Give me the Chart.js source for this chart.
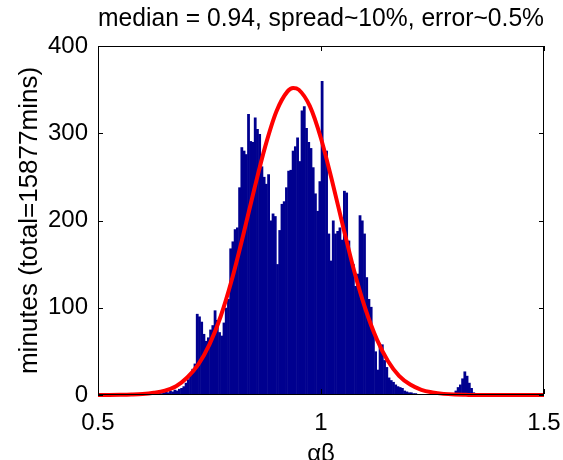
<!DOCTYPE html>
<html>
<head>
<meta charset="utf-8">
<script src="https://cdn.jsdelivr.net/npm/chart.js@4.4.0/dist/chart.umd.min.js"></script>
<style>
  html, body { margin: 0; padding: 0; background: #ffffff; overflow: hidden; }
  canvas { display: block; }
</style>
</head>
<body>
<canvas id="histChart" width="563" height="460"></canvas>
<script>
// Histogram bins: width 0.005, first bin starts at 0.625 (minutes per bin)
const binStart = 0.625;
const binWidth = 0.005;
const minuteCounts = [
    2, 2, 3, 2, 3, 4, 3, 5, 4, 6, 5, 7, 8, 10, 14, 18, 25, 30, 36,
    93, 90, 84, 70, 62, 66, 75, 80, 97, 86, 72, 68, 83, 100, 110,
    168, 176, 190, 192, 238, 284, 280, 276, 322, 291, 290, 318, 305, 299, 262, 250, 242, 253,
    200, 208, 205, 150, 189, 219, 222, 238, 257, 258, 280, 285, 295, 268, 326, 331, 306, 290, 283, 261, 231, 211, 245,
    360, 282, 280, 185, 154, 200, 185, 188, 192, 178, 234, 232, 177, 154, 150, 125, 139, 206, 200, 185, 135,
    110, 101, 71, 50, 29, 55, 58, 40, 32, 20, 17, 15, 12, 10, 9, 8, 5, 4, 3, 3, 2, 2, 1, 1,
    1, 1, 0, 1, 0, 0, 0, 0, 0, 0, 0, 0, 0, 0, 2, 5,
    9, 12, 19, 27, 22, 14, 8, 3
];

// Red fitted curve
const fitX = [0.5, 0.525, 0.55, 0.575, 0.6, 0.625, 0.65, 0.675, 0.7, 0.725, 0.75, 0.775, 0.8, 0.825, 0.85,
    0.875, 0.9, 0.925, 0.9375, 0.95, 0.975, 1.0, 1.025, 1.05, 1.075, 1.1, 1.125, 1.15, 1.175, 1.2, 1.225,
    1.25, 1.275, 1.3, 1.325, 1.35, 1.4, 1.45, 1.5];
const fitY = [0, 0.05, 0.2, 0.5, 1.1, 2.5, 5, 10, 20, 35, 58, 90, 132, 182, 235,
    285, 325, 348, 352, 350, 331, 294, 245, 192, 141, 98, 64, 39, 22, 12, 6,
    3, 1.3, 0.5, 0.2, 0, 0, 0, 0];

const xTicks = [0.5, 1, 1.5];
const yTicks = [0, 100, 200, 300, 400];

const histPoints = minuteCounts.map((c, i) => ({ x: binStart + binWidth * (i + 0.5), y: c }));
const fitPoints = fitX.map((x, i) => ({ x: x, y: fitY[i] }));

const fontFamily = "'Liberation Sans', Arial, Helvetica, sans-serif";

// Box around the plot plus short inward tick marks (MATLAB look), drawn as 1px fills
const matlabAxes = {
    id: 'matlabAxes',
    afterDatasetsDraw(chart) {
        const { ctx, chartArea: a, scales } = chart;
        const len = 5;
        const left = Math.round(a.left);
        const right = Math.round(a.right) - 1;
        const top = Math.round(a.top);
        const bottom = Math.round(a.bottom) - 1;
        ctx.save();
        ctx.fillStyle = '#000000';
        ctx.fillRect(left, top, right - left + 1, 1);
        ctx.fillRect(left, bottom, right - left + 1, 1);
        ctx.fillRect(left, top, 1, bottom - top + 1);
        ctx.fillRect(right, top, 1, bottom - top + 1);
        xTicks.forEach(v => {
            const px = Math.round(scales.x.getPixelForValue(v));
            ctx.fillRect(px, bottom - len, 1, len);
            ctx.fillRect(px, top, 1, len);
        });
        yTicks.forEach(v => {
            const py = Math.round(scales.y.getPixelForValue(v));
            ctx.fillRect(left, py, len, 1);
            ctx.fillRect(right - len + 1, py, len, 1);
        });
        ctx.restore();
    }
};

const ctx = document.getElementById('histChart').getContext('2d');
new Chart(ctx, {
    type: 'bar',
    data: {
        datasets: [
            {
                type: 'line',
                label: 'fit',
                data: fitPoints,
                borderColor: '#ff0000',
                borderWidth: 4,
                pointRadius: 0,
                cubicInterpolationMode: 'monotone',
                fill: false,
                clip: false,
                order: 1
            },
            {
                label: 'minutes',
                data: histPoints,
                backgroundColor: '#00008f',
                borderWidth: 0,
                barPercentage: 1.25,   // slight overlap hides seams between thin bars
                categoryPercentage: 1.0,
                order: 2
            }
        ]
    },
    options: {
        responsive: false,
        animation: false,
        layout: {
            padding: { left: 0, right: 19, top: 0, bottom: 0 }
        },
        scales: {
            x: {
                type: 'linear',
                min: 0.5,
                max: 1.5,
                offset: false,
                afterFit: scale => {
                    scale.height = 65;
                    // edge labels may hang outside the plot, don't shrink it for them
                    scale.paddingLeft = 0;
                    scale.paddingRight = 0;
                },
                afterBuildTicks: scale => { scale.ticks = xTicks.map(v => ({ value: v })); },
                ticks: {
                    color: '#000000',
                    padding: 14,
                    font: { family: fontFamily, size: 24 },
                    callback: v => String(v)
                },
                grid: { display: false, drawTicks: false },
                border: { display: false },
                title: {
                    display: true,
                    text: 'αβ',
                    color: '#000000',
                    font: { family: fontFamily, size: 24 },
                    padding: { top: 0, bottom: -9 }
                }
            },
            y: {
                type: 'linear',
                min: 0,
                max: 400,
                afterFit: scale => { scale.width = 98; },
                afterBuildTicks: scale => { scale.ticks = yTicks.map(v => ({ value: v })); },
                ticks: {
                    color: '#000000',
                    padding: 10,
                    font: { family: fontFamily, size: 24 }
                },
                grid: { display: false, drawTicks: false },
                border: { display: false },
                title: {
                    display: true,
                    text: 'minutes (total=15877mins)',
                    color: '#000000',
                    font: { family: fontFamily, size: 26 },
                    padding: { top: 14, bottom: 0 }
                }
            }
        },
        plugins: {
            legend: { display: false },
            tooltip: { enabled: false },
            title: {
                display: true,
                fullSize: false,
                text: 'median = 0.94, spread~10%, error~0.5%',
                color: '#000000',
                font: { family: fontFamily, size: 25, weight: 'normal' },
                padding: { top: 4, bottom: 12 }
            }
        }
    },
    plugins: [matlabAxes]
});
</script>
</body>
</html>
